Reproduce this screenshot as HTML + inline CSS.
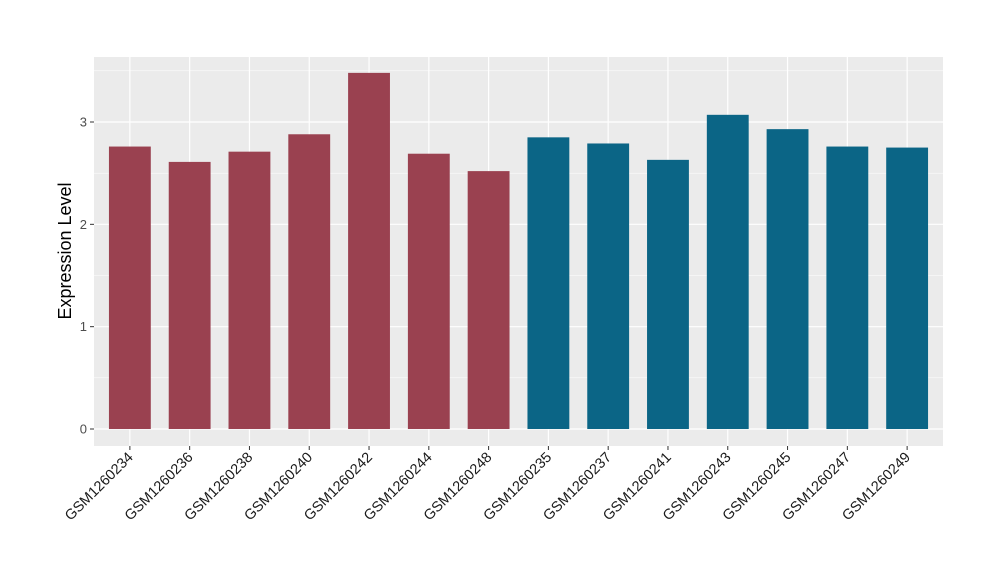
<!DOCTYPE html>
<html><head><meta charset="utf-8"><style>body{margin:0;background:#fff}svg{font-family:"Liberation Sans",sans-serif}</style></head>
<body>
<svg id="c" width="1000" height="580"></svg>
<script>
const categories=["GSM1260234","GSM1260236","GSM1260238","GSM1260240","GSM1260242","GSM1260244","GSM1260248","GSM1260235","GSM1260237","GSM1260241","GSM1260243","GSM1260245","GSM1260247","GSM1260249"];
const values=[2.76,2.61,2.71,2.88,3.48,2.69,2.52,2.85,2.79,2.63,3.07,2.93,2.76,2.75];
const groups=[0,0,0,0,0,0,0,1,1,1,1,1,1,1];
const yTicks=[0,1,2,3];
const colors=["#9A4150","#0B6586"];
const svg=document.getElementById('c');const NS="http://www.w3.org/2000/svg";
const L=94,R=943,T=57,B=446,ymin=-0.166,ymax=3.635;
const y=v=>B-(v-ymin)/(ymax-ymin)*(B-T);
const step=(R-L)/(categories.length-1+1.2);const x=i=>L+step*(i+0.6);
function mk(t,a,p){const e=document.createElementNS(NS,t);for(const k in a)e.setAttribute(k,a[k]);(p||svg).appendChild(e);return e;}
const bg=mk('rect',{x:L,y:T,width:R-L,height:B-T,fill:'#EBEBEB'});


for(let v=-0.5;v<=3.5;v+=0.5){if(v<ymin||v>ymax)continue;const major=Number.isInteger(v);const g=mk('line',{x1:L,x2:R,y1:y(v),y2:y(v),stroke:'#fff','stroke-width':major?1.2:0.5});

}
categories.forEach((c,i)=>{const g=mk('line',{x1:x(i),x2:x(i),y1:T,y2:B,stroke:'#fff','stroke-width':1.2});

});
const bw=step*0.7;
values.forEach((v,i)=>{const r=mk('rect',{x:x(i)-bw/2,y:y(v),width:bw,height:y(0)-y(v),fill:colors[groups[i]]});


const t=mk('line',{x1:x(i),x2:x(i),y1:B,y2:B+4,stroke:'#333'});


const l=mk('text',{x:x(i)+4,y:B+12,'text-anchor':'end','font-size':14.5,fill:'#1a1a1a',transform:`rotate(-45 ${x(i)+4} ${B+12})`});l.textContent=categories[i];

});
yTicks.forEach(v=>{const t=mk('line',{x1:L-4,x2:L,y1:y(v),y2:y(v),stroke:'#333'});


const l=mk('text',{x:L-7,y:y(v)+4.5,'text-anchor':'end','font-size':13,fill:'#4d4d4d'});l.textContent=v;

});
const yt=mk('text',{x:71,y:251,'text-anchor':'middle','font-size':18,fill:'#000',transform:'rotate(-90 71 251)'});yt.textContent='Expression Level';


</script>
</body></html>
